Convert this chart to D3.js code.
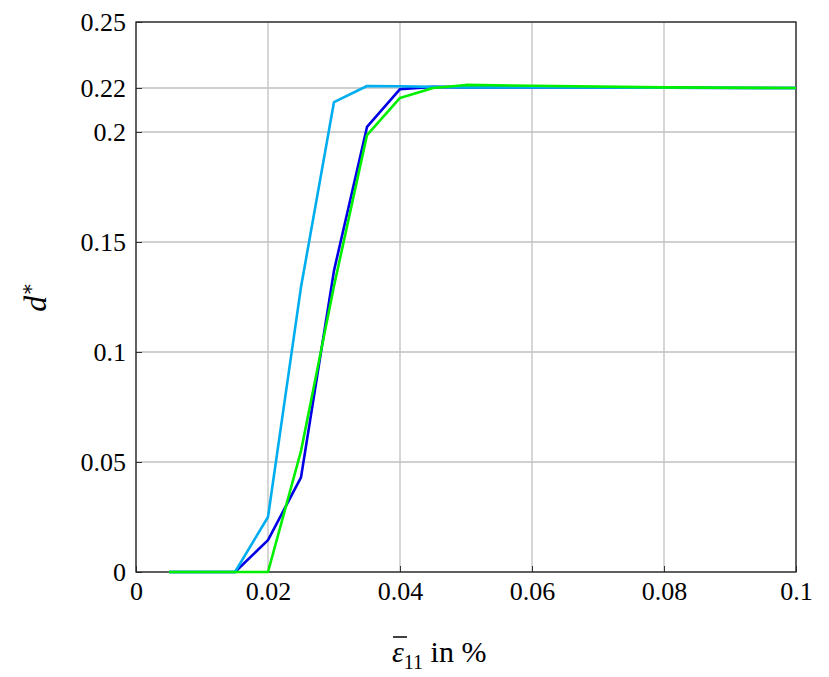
<!DOCTYPE html>
<html><head><meta charset="utf-8">
<script src="https://cdn.jsdelivr.net/npm/d3@7"></script>
<style>body{margin:0;background:#fff}svg text{font-family:"Liberation Serif","DejaVu Serif",serif !important}</style>
</head><body><svg id="c" width="829" height="677"></svg>
<script>
const xs = [0.005, 0.015, 0.02, 0.025, 0.03, 0.035, 0.04, 0.045, 0.05, 0.06, 0.08, 0.1];
const blue  = [0, 0, 0.0145, 0.043, 0.137, 0.2023, 0.2195, 0.2205, 0.2203, 0.2202, 0.2201, 0.22];
const cyan  = [0, 0, 0.025, 0.1295, 0.2136, 0.2209, 0.2208, 0.2205, 0.2203, 0.2202, 0.2201, 0.22];
const green = [0, 0, 0, 0.055, 0.13, 0.1986, 0.2155, 0.22, 0.2214, 0.221, 0.2203, 0.22];
const xTicks = [0, 0.02, 0.04, 0.06, 0.08, 0.1];
const yTicks = [0, 0.05, 0.1, 0.15, 0.2, 0.22, 0.25];

const svg = d3.select("#c");
const x = d3.scaleLinear([0, 0.1], [136, 796]);
const y = d3.scaleLinear([0, 0.25], [572, 22]);

svg.append("g").selectAll("line").data(xTicks).join("line")
  .attr("x1", d => x(d)).attr("x2", d => x(d)).attr("y1", 22).attr("y2", 572)
  .attr("stroke", "#c0c0c0").attr("stroke-width", 1.3);
svg.append("g").selectAll("line").data(yTicks).join("line")
  .attr("y1", d => y(d)).attr("y2", d => y(d)).attr("x1", 136).attr("x2", 796)
  .attr("stroke", "#c0c0c0").attr("stroke-width", 1.3);

const fmt = d => d === 0 ? "0" : String(+d.toFixed(3));
const xa = svg.append("g").attr("transform", "translate(0,572)")
  .call(d3.axisBottom(x).tickValues(xTicks).tickFormat(fmt).tickSize(-6).tickPadding(10));
const ya = svg.append("g").attr("transform", "translate(136,0)")
  .call(d3.axisLeft(y).tickValues(yTicks).tickFormat(fmt).tickSize(-6).tickPadding(10));
[xa, ya].forEach(a => {
  a.attr("font-family", null);
  a.select(".domain").remove();
  a.selectAll("text").attr("font-size", 26).attr("fill", "#000");
  a.selectAll("line").attr("stroke", "#333");
});
svg.append("rect").attr("x", 136).attr("y", 22).attr("width", 660).attr("height", 550)
  .attr("fill", "none").attr("stroke", "#222").attr("stroke-width", 1.3);

const line = d3.line().x((d, i) => x(xs[i])).y(d => y(d));
[[blue, "#0000e6"], [cyan, "#00aeef"], [green, "#00f000"]].forEach(([s, c]) => {
  svg.append("path").attr("d", line(s)).attr("fill", "none").attr("stroke", c)
    .attr("stroke-width", 2.6).attr("stroke-linejoin", "round");
});

svg.append("text").attr("transform", "translate(46,297) rotate(-90)").attr("text-anchor", "middle")
  .attr("font-size", 32).html('<tspan font-style="italic">d</tspan><tspan dy="-12" font-size="20">∗</tspan>');
svg.append("text").attr("x", 392).attr("y", 662).attr("font-size", 30)
  .html('<tspan font-style="italic">ε</tspan><tspan dy="7" font-size="20">11</tspan><tspan dy="-7"> in %</tspan>');
svg.append("line").attr("x1", 393).attr("x2", 407).attr("y1", 637).attr("y2", 637)
  .attr("stroke", "#000").attr("stroke-width", 1.5);
</script></body></html>
